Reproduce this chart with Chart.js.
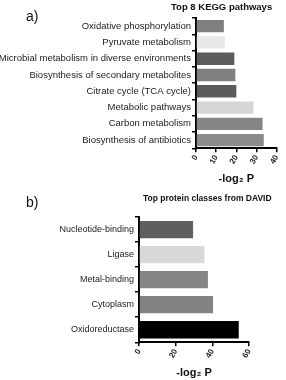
<!DOCTYPE html>
<html>
<head>
<meta charset="utf-8">
<script src="https://cdn.jsdelivr.net/npm/chart.js@4.4.0/dist/chart.umd.min.js"></script>
<style>
    body { margin: 0; background: #fff; font-family: "Liberation Sans", Arial, sans-serif; }
    #wrap { position: relative; width: 286px; height: 380px; }
    .panel { position: absolute; left: 0; width: 286px; height: 190px; }
    .letter { position: absolute; font-size: 14px; color: #111; }
    .title { position: absolute; font-weight: bold; color: #111; white-space: nowrap; }
</style>
</head>
<body>
<div id="wrap">
    <div class="panel" style="top:0"><canvas id="keggChart" width="286" height="190"></canvas></div>
    <div class="panel" style="top:190px"><canvas id="davidChart" width="286" height="190"></canvas></div>
    <div class="letter" style="left:26px;top:8px">a)</div>
    <div class="title" style="left:171px;top:1px;font-size:9.5px">Top 8 KEGG pathways</div>
    <div class="letter" style="left:26px;top:194px">b)</div>
    <div class="title" style="left:143px;top:193px;font-size:8.5px">Top protein classes from DAVID</div>
</div>
<script>
// panel a) - KEGG pathways
var keggLabels = ['Oxidative phosphorylation', 'Pyruvate metabolism', 'Microbial metabolism in diverse environments',
    'Biosynthesis of secondary metabolites', 'Citrate cycle (TCA cycle)', 'Metabolic pathways',
    'Carbon metabolism', 'Biosynthesis of antibiotics'];
var keggValues = [13.8, 14.3, 19.0, 19.5, 20.0, 28.5, 33.0, 33.6];
var keggColors = ['#7f7f7f', '#e8e8e8', '#5c5c5c', '#808080', '#5a5a5a', '#d5d5d5', '#858585', '#8b8b8b'];

// panel b) - DAVID protein classes
var davidLabels = ['Nucleotide-binding', 'Ligase', 'Metal-binding', 'Cytoplasm', 'Oxidoreductase'];
var davidValues = [29.5, 35.7, 37.6, 40.4, 54.4];
var davidColors = ['#5f5f5f', '#d8d8d8', '#858585', '#838383', '#000000'];

var axisTitle = '-log\u2082 P';

function makeChart(id, labels, values, colors, opts) {
    var ctx = document.getElementById(id).getContext('2d');
    return new Chart(ctx, {
        type: 'bar',
        data: {
            labels: labels,
            datasets: [{
                data: values,
                backgroundColor: colors,
                borderWidth: 0,
                barPercentage: opts.barPct,
                categoryPercentage: 1
            }]
        },
        options: {
            indexAxis: 'y',
            responsive: false,
            animation: false,
            layout: { padding: opts.padding },
            plugins: { legend: { display: false }, tooltip: { enabled: false } },
            scales: {
                x: {
                    min: 0,
                    max: opts.max,
                    ticks: {
                        stepSize: opts.step,
                        minRotation: 60,
                        maxRotation: 60,
                        padding: 1,
                        color: '#222',
                        font: { family: 'Liberation Sans', size: 8, weight: 'bold' }
                    },
                    grid: { drawOnChartArea: false, drawTicks: true, tickLength: 4, color: '#000', lineWidth: 1.5 },
                    border: { display: true, color: '#000', width: 2 },
                    title: {
                        display: true,
                        text: axisTitle,
                        color: '#111',
                        padding: { top: 6, bottom: 0 },
                        font: { family: 'Liberation Sans', size: 11, weight: 'bold' }
                    }
                },
                y: {
                    afterFit: function (scale) { scale.width = opts.yWidth; },
                    ticks: {
                        padding: 1,
                        color: '#222',
                        font: { family: 'Liberation Sans', size: opts.labelSize }
                    },
                    grid: { drawOnChartArea: false, drawTicks: true, tickLength: 4, color: '#000', lineWidth: 1.5 },
                    border: { display: true, color: '#000', width: 2 }
                }
            }
        }
    });
}

var keggChart = makeChart('keggChart', keggLabels, keggValues, keggColors, {
    max: 40, step: 10, barPct: 0.76, labelSize: 9.5, yWidth: 196,
    padding: { top: 18, right: 3, left: 0, bottom: 4 }
});

var davidChart = makeChart('davidChart', davidLabels, davidValues, davidColors, {
    max: 60, step: 20, barPct: 0.69, labelSize: 9, yWidth: 139,
    padding: { top: 27, right: 37, left: 0, bottom: 0 }
});
</script>
</body>
</html>
